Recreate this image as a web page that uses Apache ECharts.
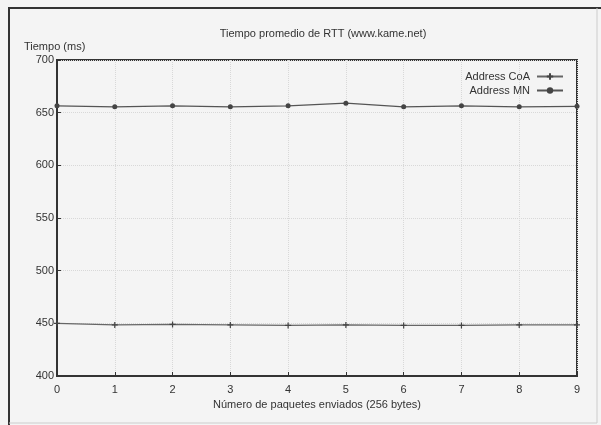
<!DOCTYPE html>
<html>
<head>
<meta charset="utf-8">
<script src="https://cdn.jsdelivr.net/npm/echarts@6/dist/echarts.min.js"></script>
<style>
html,body{margin:0;padding:0;background:#f4f4f4;}
#c{width:601px;height:425px;}
</style>
</head>
<body>
<div id="c"></div>
<script>
const titleText = 'Tiempo promedio de RTT (www.kame.net)';
const yName = 'Tiempo (ms)';
const xName = 'Número de paquetes enviados (256 bytes)';
const categories = [0, 1, 2, 3, 4, 5, 6, 7, 8, 9];
const seriesNames = ['Address CoA', 'Address MN'];
const coaValues = [450, 448.5, 449, 448.5, 448, 448.5, 448, 448, 448.5, 448.5];
const mnValues = [656.5, 655.5, 656.5, 655.5, 656.5, 659, 655.5, 656.5, 655.5, 656];

const crossPath = 'path://M0,5L10,5M5,0L5,10';
const chart = echarts.init(document.getElementById('c'), null, {renderer: 'canvas'});
const font = 'Liberation Sans';
chart.setOption({
  backgroundColor: '#f4f4f4',
  animation: false,
  textStyle: {fontFamily: font},
  title: {
    text: titleText, left: 318, top: 23, textAlign: 'center',
    textStyle: {fontSize: 11, fontWeight: 'normal', color: '#333', fontFamily: font}
  },
  legend: {
    orient: 'vertical', right: 32, top: 66, align: 'right',
    itemWidth: 26, itemHeight: 8, itemGap: 3,
    textStyle: {fontSize: 11, color: '#333', padding: [0, 2, 0, 0]},
    data: seriesNames
  },
  grid: {left: 57, right: 24, top: 60, bottom: 49, show: true, borderColor: '#333', borderWidth: 2, backgroundColor: 'transparent'},
  xAxis: {
    type: 'value', min: 0, max: 9, interval: 1,
    name: xName, nameLocation: 'middle', nameGap: 21,
    nameTextStyle: {fontSize: 11, color: '#333'},
    axisLine: {show: true, onZero: false, lineStyle: {color: '#333', width: 2}},
    axisTick: {show: true, inside: true, length: 4, lineStyle: {color: '#333'}},
    axisLabel: {fontSize: 11, color: '#333', margin: 8},
    splitLine: {show: true, lineStyle: {color: '#d8d8d8', type: 'dotted', width: 1}}
  },
  yAxis: {
    type: 'value', min: 400, max: 700, interval: 50,
    name: yName, nameLocation: 'end', nameGap: 8,
    nameTextStyle: {fontSize: 11, color: '#333', align: 'left', padding: [0, 0, 0, -33]},
    axisLine: {show: true, lineStyle: {color: '#333', width: 2}},
    axisTick: {show: true, inside: true, length: 4, lineStyle: {color: '#333'}},
    axisLabel: {fontSize: 11, color: '#333', margin: 3},
    splitLine: {show: true, lineStyle: {color: '#d8d8d8', type: 'dotted', width: 1}}
  },
  series: [
    {
      name: seriesNames[0], type: 'line',
      data: categories.map((c, i) => [c, coaValues[i]]),
      symbol: crossPath, symbolSize: 6, showSymbol: true,
      lineStyle: {color: '#666', width: 1.2},
      itemStyle: {color: '#444', borderColor: '#444', borderWidth: 1.2}
    },
    {
      name: seriesNames[1], type: 'line',
      data: categories.map((c, i) => [c, mnValues[i]]),
      symbol: 'circle', symbolSize: 5, showSymbol: true,
      lineStyle: {color: '#555', width: 1.2},
      itemStyle: {color: '#444'}
    }
  ],
  graphic: [
    {type: 'polyline', shape: {points: [[9, 425], [9, 8], [601, 8]]}, style: {stroke: '#333', lineWidth: 2, fill: null}},
    {type: 'polyline', shape: {points: [[597, 8], [597, 423], [9, 423]]}, style: {stroke: '#ccc', lineWidth: 1, fill: null}}
  ]
});
</script>
</body>
</html>
